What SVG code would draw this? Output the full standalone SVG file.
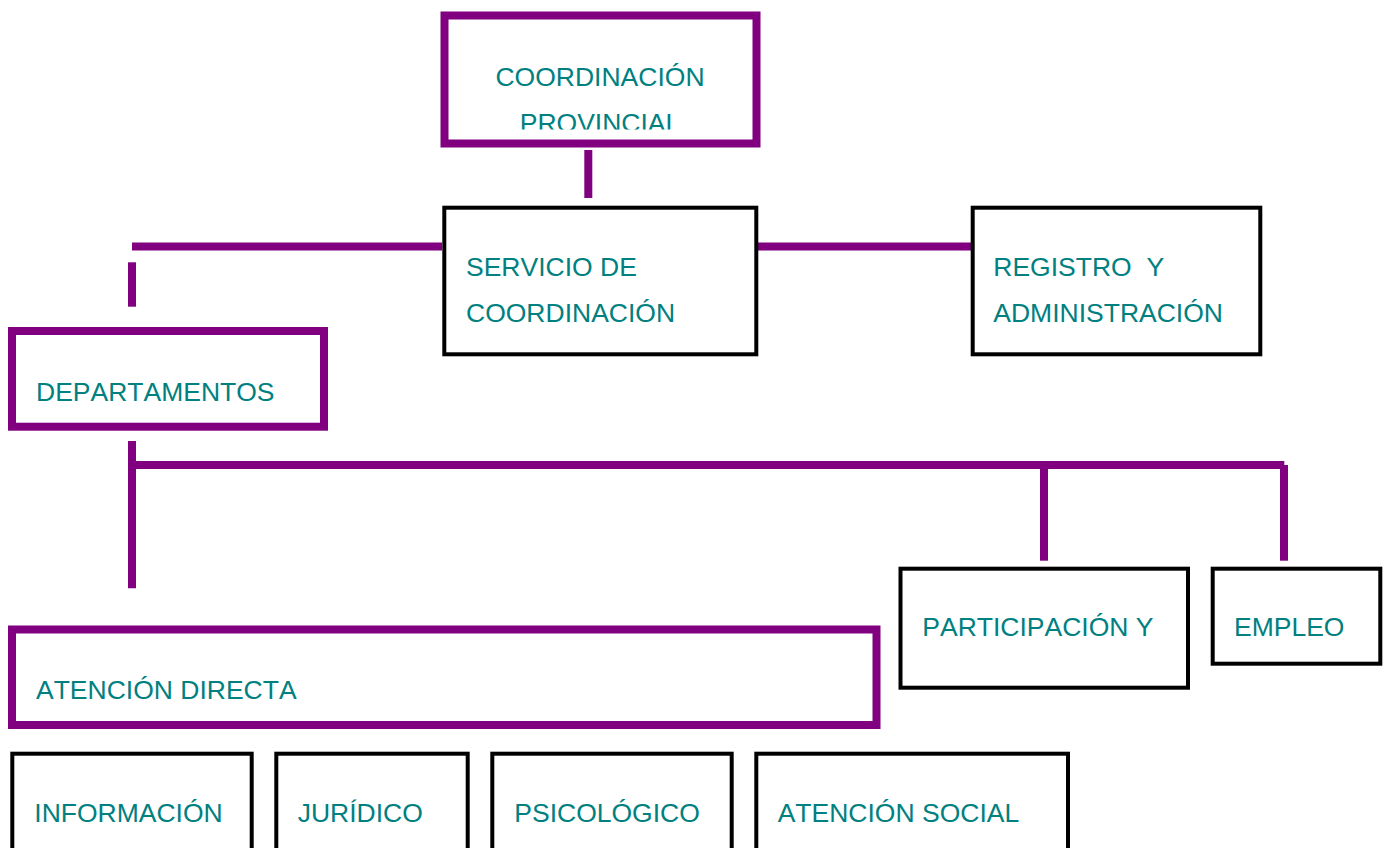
<svg xmlns="http://www.w3.org/2000/svg" width="1384" height="848" viewBox="0 0 1384 848">
<style>
.p{fill:#fff;stroke:#800080;stroke-width:8}
.b{fill:#fff;stroke:#000;stroke-width:4}
.t{font-family:'Liberation Sans',sans-serif;font-size:26.5px;fill:#008080;font-kerning:none}
.c{stroke:#800080;stroke-width:8;fill:none}
</style>
<defs>
<clipPath id="clipTop"><rect x="440" y="0" width="330" height="129.6"/></clipPath>
</defs>
<rect width="1384" height="848" fill="#fff"/>
<g id="connectors">
<line class="c" x1="588.3" y1="150" x2="588.3" y2="198" stroke-width="8.5"/>
<line class="c" x1="132" y1="246.5" x2="442" y2="246.5"/>
<line class="c" x1="132" y1="262.3" x2="132" y2="306.7"/>
<line class="c" x1="756" y1="246.4" x2="972" y2="246.4"/>
<line class="c" x1="132" y1="441" x2="132" y2="588.3"/>
<line class="c" x1="132" y1="465" x2="1284.3" y2="465"/>
<line class="c" x1="1044" y1="469" x2="1044" y2="560.7"/>
<line class="c" x1="1284" y1="465" x2="1284" y2="560.7"/>
</g>
<g id="coordinacion-provincial">
<rect class="p" x="444.5" y="15.5" width="312" height="128" stroke-width="8.5"/>
<g clip-path="url(#clipTop)">
<text class="t" x="600" y="85.5" text-anchor="middle">COORDINACIÓN</text>
<text class="t" x="600" y="131.5" text-anchor="middle">PROVINCIAL</text>
</g>
</g>
<g id="servicio-coordinacion">
<rect class="b" x="444.3" y="207.7" width="312" height="146.6"/>
<text class="t" x="466" y="276">SERVICIO DE</text>
<text class="t" x="466" y="322">COORDINACIÓN</text>
</g>
<g id="registro-administracion">
<rect class="b" x="972.7" y="207.7" width="287.6" height="146.6"/>
<text class="t" x="993.3" y="276" xml:space="preserve">REGISTRO  Y</text>
<text class="t" x="993.3" y="322">ADMINISTRACIÓN</text>
</g>
<g id="departamentos">
<rect class="p" x="12" y="331" width="312" height="95.7"/>
<text class="t" x="36" y="401">DEPARTAMENTOS</text>
</g>
<g id="participacion">
<rect class="b" x="900.5" y="568.7" width="287.5" height="119"/>
<text class="t" x="922.3" y="636">PARTICIPACIÓN Y</text>
</g>
<g id="empleo">
<rect class="b" x="1212.7" y="568.7" width="167.6" height="95"/>
<text class="t" x="1234" y="636">EMPLEO</text>
</g>
<g id="atencion-directa">
<rect class="p" x="12" y="629.5" width="864.5" height="95.5"/>
<text class="t" x="36" y="699.3">ATENCIÓN DIRECTA</text>
</g>
<g id="informacion">
<rect class="b" x="12.3" y="753.7" width="239.4" height="150"/>
<text class="t" x="34.3" y="821.7">INFORMACIÓN</text>
</g>
<g id="juridico">
<rect class="b" x="276.3" y="753.7" width="191.4" height="150"/>
<text class="t" x="297.7" y="821.7">JURÍDICO</text>
</g>
<g id="psicologico">
<rect class="b" x="492.3" y="753.7" width="239.4" height="150"/>
<text class="t" x="514.3" y="821.7">PSICOLÓGICO</text>
</g>
<g id="atencion-social">
<rect class="b" x="756.3" y="753.7" width="311.7" height="150"/>
<text class="t" x="777.7" y="821.7">ATENCIÓN SOCIAL</text>
</g>
</svg>
